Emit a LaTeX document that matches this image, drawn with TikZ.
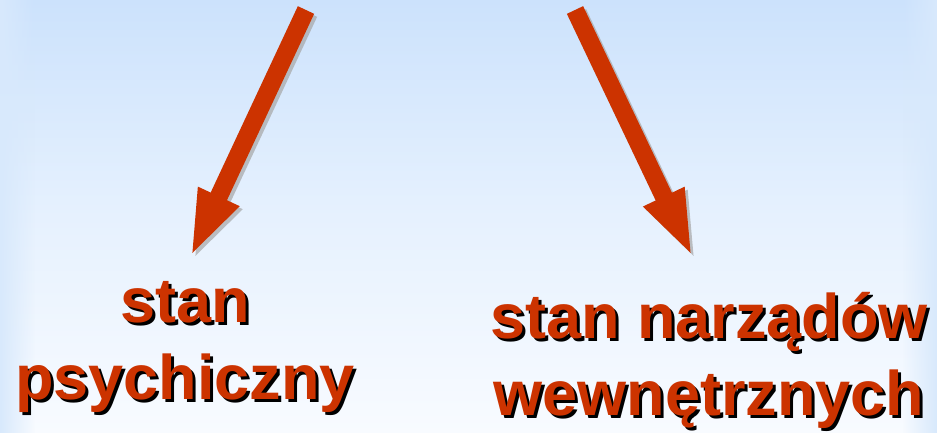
\documentclass[tikz,border=0pt]{standalone}
\usepackage{fontspec}
\setmainfont{Liberation Sans}
\usetikzlibrary{arrows.meta,fadings}
\definecolor{arrowred}{RGB}{204,51,0}
\definecolor{topblue}{RGB}{204,226,252}
\definecolor{midblue}{RGB}{230,241,254}
\definecolor{botblue}{RGB}{248,251,255}
\definecolor{edgeblue}{RGB}{216,233,252}
\newcommand\shtxt[1]{\leavevmode\rlap{\kern3pt\raisebox{-3pt}{\textcolor{black}{#1}}}#1}
\tikzset{
  bigarrow/.style={line width=18pt, arrowred, -{Triangle[length=68pt,width=40pt]}},
  arrowshadow/.style={line width=18pt, black!35, opacity=0.7, -{Triangle[length=68pt,width=40pt]}},
  label/.style={font=\bfseries\fontsize{63}{77}\selectfont, align=center, inner sep=0pt, text=arrowred, anchor=base},
}
\begin{document}
\begin{tikzpicture}[x=1pt,y=-1pt]
\useasboundingbox (0,0) rectangle (937,433);
\fill[top color=topblue, bottom color=botblue, middle color=midblue] (0,0) rectangle (937,433);
\fill[edgeblue, path fading=east] (0,0) rectangle (35,433);
\fill[edgeblue, path fading=west] (902,0) rectangle (937,433);
% arrows
\coordinate (a1s) at (306,10);
\coordinate (a1t) at (190,258);
\coordinate (a2s) at (575,10);
\coordinate (a2t) at (693,258);
\coordinate (a1ss) at (309,13);
\coordinate (a1ts) at (193,261);
\coordinate (a2ss) at (578,13);
\coordinate (a2ts) at (696,261);
\draw[arrowshadow] (a1ss) -- (a1ts);
\draw[arrowshadow] (a2ss) -- (a2ts);
\draw[bigarrow] (a1s) -- (a1t);
\draw[bigarrow] (a2s) -- (a2t);
% labels
\node[label] (l1) at (185,399) {\shtxt{stan}\\\shtxt{psychiczny}};
\node[label] (l2) at (709,415) {\shtxt{stan narządów}\\\shtxt{wewnętrznych}};
\end{tikzpicture}
\end{document}
